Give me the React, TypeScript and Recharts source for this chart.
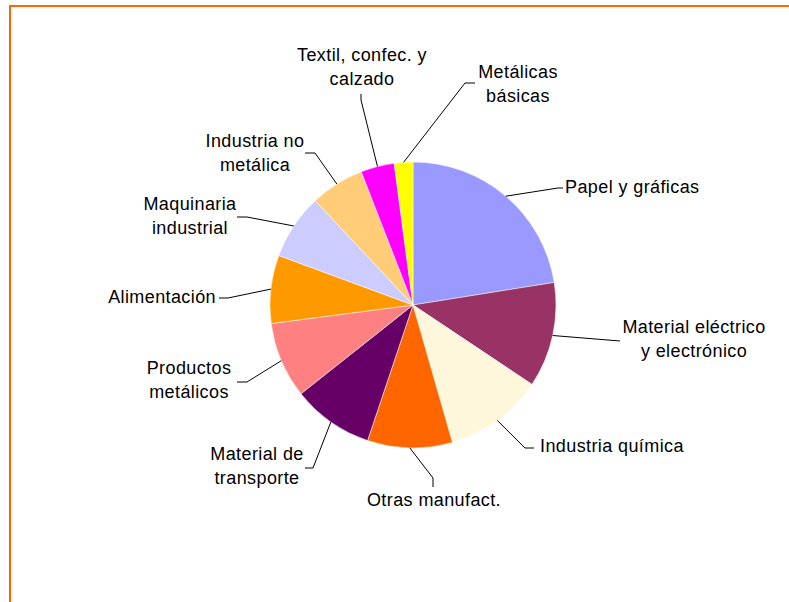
import { PieChart, Pie, Cell } from "recharts"

const CATEGORIES = [
  "Papel y gráficas",
  "Material eléctrico y electrónico",
  "Industria química",
  "Otras manufact.",
  "Material de transporte",
  "Productos metálicos",
  "Alimentación",
  "Maquinaria industrial",
  "Industria no metálica",
  "Textil, confec. y calzado",
  "Metálicas básicas",
]

const SHARES = [22.5, 11.9, 11.2, 9.6, 9.2, 8.6, 7.7, 7.4, 6.1, 3.8, 2.1]

const LABEL_LINES = [
  ["Papel y gráficas"],
  ["Material eléctrico", "y electrónico"],
  ["Industria química"],
  ["Otras manufact."],
  ["Material de", "transporte"],
  ["Productos", "metálicos"],
  ["Alimentación"],
  ["Maquinaria", "industrial"],
  ["Industria no", "metálica"],
  ["Textil, confec. y", "calzado"],
  ["Metálicas", "básicas"],
]

const COLORS = [
  "#9999FF",
  "#993366",
  "#FFF7DC",
  "#FF6600",
  "#660066",
  "#FF8080",
  "#FF9900",
  "#CCCCFF",
  "#FFCC77",
  "#FF00FF",
  "#FFFF00",
]

// leader line elbow (e), stub end (s) and text block position (t), relative to the pie centre
const LABEL_LAYOUT = [
  { ex: 145, ey: -117, sx: 150, sy: -117, tx: 152, ty: -118, anchor: "start" },
  { ex: 207, ey: 36, sx: 207, sy: 36, tx: 281, ty: 34, anchor: "middle" },
  { ex: 112, ey: 143, sx: 121, sy: 143, tx: 127, ty: 141, anchor: "start" },
  { ex: 20, ey: 173, sx: 20, sy: 182, tx: 21, ty: 195, anchor: "middle" },
  { ex: -100, ey: 163, sx: -108, sy: 163, tx: -156, ty: 161, anchor: "middle" },
  { ex: -166, ey: 77, sx: -176, sy: 77, tx: -224, ty: 75, anchor: "middle" },
  { ex: -185, ey: -7, sx: -194, sy: -7, tx: -197, ty: -8, anchor: "end" },
  { ex: -166, ey: -88, sx: -176, sy: -88, tx: -223, ty: -89, anchor: "middle" },
  { ex: -98, ey: -152, sx: -108, sy: -152, tx: -158, ty: -152, anchor: "middle" },
  { ex: -52, ey: -205, sx: -52, sy: -211, tx: -51, ty: -238, anchor: "middle" },
  { ex: 52, ey: -222, sx: 62, sy: -222, tx: 105, ty: -221, anchor: "middle" },
]

const data = CATEGORIES.map((name, i) => ({ name, value: SHARES[i] }))

const RADIAN = Math.PI / 180
const LINE_HEIGHT = 23.5

function renderLabel(props: any) {
  const { cx, cy, midAngle, outerRadius, index } = props
  const layout = LABEL_LAYOUT[index]
  const lines = LABEL_LINES[index]
  const x0 = cx + outerRadius * Math.cos(-midAngle * RADIAN)
  const y0 = cy + outerRadius * Math.sin(-midAngle * RADIAN)
  const firstY = cy + layout.ty - ((lines.length - 1) * LINE_HEIGHT) / 2
  return (
    <g key={`label-${index}`}>
      <polyline
        points={`${x0},${y0} ${cx + layout.ex},${cy + layout.ey} ${cx + layout.sx},${cy + layout.sy}`}
        fill="none"
        stroke="#000"
        strokeWidth={1}
      />
      <text
        x={cx + layout.tx}
        y={firstY}
        textAnchor={layout.anchor}
        dominantBaseline="central"
        fill="#000"
        fontSize={18}
        letterSpacing={0.4}
        fontFamily="'Liberation Sans', Arial, sans-serif"
      >
        {lines.map((line, j) => (
          <tspan key={j} x={cx + layout.tx} y={firstY + j * LINE_HEIGHT}>
            {line}
          </tspan>
        ))}
      </text>
    </g>
  )
}

export default function App() {
  return (
    <div style={{ position: "absolute", left: 0, top: 0, width: 789, height: 602, background: "#fff", overflow: "hidden" }}>
      <div
        style={{
          position: "absolute",
          left: 9,
          top: 5,
          width: 800,
          height: 620,
          borderLeft: "2.5px solid #FF6600",
          borderTop: "2px solid #FF6600",
        }}
      />
      <PieChart
        width={789}
        height={602}
        margin={{ top: 0, right: 0, bottom: 0, left: 0 }}
        style={{ position: "absolute", left: 0, top: 0 }}
      >
        <Pie
          data={data}
          dataKey="value"
          nameKey="name"
          cx={413}
          cy={305}
          outerRadius={143}
          startAngle={90}
          endAngle={-270}
          label={renderLabel}
          labelLine={false}
          isAnimationActive={false}
        >
          {data.map((entry, index) => (
            <Cell key={`cell-${index}`} fill={COLORS[index]} stroke="#fff" strokeWidth={0.5} />
          ))}
        </Pie>
      </PieChart>
    </div>
  )
}
